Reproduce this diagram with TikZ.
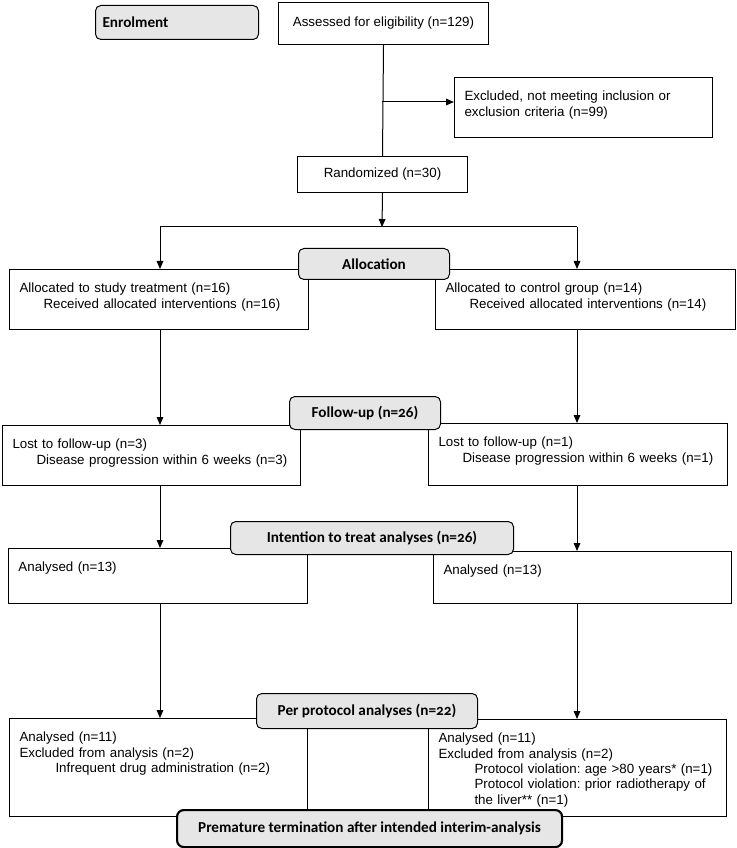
\documentclass[tikz,border=0pt]{standalone}
\usepackage{fontspec}
\setmainfont{Liberation Sans}
\newfontfamily\headfont[Numbers=OldStyle]{Carlito}
\usepackage{xcolor}
\usetikzlibrary{arrows.meta, positioning}
\definecolor{stagegray}{HTML}{E6E6E6}
\frenchspacing

\begin{document}
\begin{tikzpicture}[x=0.75pt, y=-0.75pt, line width=0.75pt,
  arr/.style={-{Triangle[length=6pt,width=5pt]}},
  stage/.style={draw, fill=stagegray, rounded corners=4pt, anchor=north west, inner sep=0pt,
    font=\headfont\bfseries\fontsize{11.4}{13}\selectfont},
  info/.style 2 args={draw, anchor=north west, align=left, text width=#1, text height=8pt,
    text depth=#2, inner xsep=7.5pt, inner ysep=9.5pt, font=\fontsize{10}{11.5}\selectfont},
  plain/.style={draw, anchor=north west, inner sep=0pt, font=\fontsize{10}{11.5}\selectfont}]
\useasboundingbox (0,0) rectangle (736,848);

\node[plain, minimum width=157.5pt, minimum height=31.5pt] (assess) at (278,2) {Assessed for eligibility (n=129)};
\node[info={178.5pt}{18pt}] (excl) at (454,77) {Excluded, not meeting inclusion or\\exclusion criteria (n=99)};
\node[plain, minimum width=127.5pt, minimum height=27pt] (rand) at (297,156) {Randomized (n=30)};

\node[info={209.25pt}{18pt}] (lalloc) at (9,269) {Allocated to study treatment (n=16)\\\hspace*{18pt}Received allocated interventions (n=16)};
\node[info={210pt}{18pt}] (ralloc) at (435,269) {Allocated to control group (n=14)\\\hspace*{18pt}Received allocated interventions (n=14)};

\node[info={208.5pt}{18pt}] (lfollow) at (2,425) {Lost to follow-up (n=3)\\\hspace*{18pt}Disease progression within 6 weeks (n=3)};
\node[info={209.25pt}{19.5pt}] (rfollow) at (428,423) {Lost to follow-up (n=1)\\\hspace*{18pt}Disease progression within 6 weeks (n=1)};

\node[info={209.25pt}{14.25pt}] (litt) at (8,548) {Analysed (n=13)};
\node[info={208.5pt}{12pt}] (ritt) at (433,551) {Analysed (n=13)};

\node[info={208.5pt}{46.5pt}] (lpp) at (9,718) {Analysed (n=11)\\Excluded from analysis (n=2)\\\hspace*{27pt}Infrequent drug administration (n=2)};
\node[info={208.5pt}{45.75pt}] (rpp) at (428,719) {Analysed (n=11)\\Excluded from analysis (n=2)\\\hspace*{27pt}Protocol violation: age >80 years* (n=1)\\\hspace*{27pt}Protocol violation: prior radiotherapy of\\\hspace*{27pt}the liver** (n=1)};

\coordinate (branch) at (382,102);
\coordinate (split) at (382,227);
\coordinate (lsplit) at (160,227);
\coordinate (rsplit) at (577,227);

\draw (assess.south) -- (rand.north);
\draw[arr] (branch) -- (branch -| excl.west);
\draw[arr] (rand.south) -- (split);
\draw (lsplit) -- (rsplit);
\draw[arr] (lsplit) -- (lsplit |- lalloc.north);
\draw[arr] (rsplit) -- (rsplit |- ralloc.north);
\draw[arr] (lsplit |- lalloc.south) -- (lsplit |- lfollow.north);
\draw[arr] (rsplit |- ralloc.south) -- (rsplit |- rfollow.north);
\draw[arr] (lsplit |- lfollow.south) -- (lsplit |- litt.north);
\draw[arr] (rsplit |- rfollow.south) -- (rsplit |- ritt.north);
\draw[arr] (lsplit |- litt.south) -- (lsplit |- lpp.north);
\draw[arr] (rsplit |- ritt.south) -- (rsplit |- rpp.north);

\node[stage, align=left, text width=111.75pt, inner xsep=5.25pt, minimum height=25.5pt] (enrol) at (95,5) {Enrolment};
\node[stage, minimum width=113.25pt, minimum height=23.25pt] (alloc) at (298,248) {Allocation};
\node[stage, minimum width=113.25pt, minimum height=24.75pt] (follow) at (289,396) {Follow-up (n=26)};
\node[stage, minimum width=212.25pt, minimum height=24.75pt] (itt) at (230,521) {Intention to treat analyses (n=26)};
\node[stage, minimum width=165.75pt, minimum height=26.25pt] (pp) at (256,693) {Per protocol analyses (n=22)};
\node[stage, line width=1.6pt, rounded corners=5pt, minimum width=288.75pt, minimum height=27.75pt] (stop) at (176,809) {Premature termination after intended interim-analysis};
\end{tikzpicture}
\end{document}
